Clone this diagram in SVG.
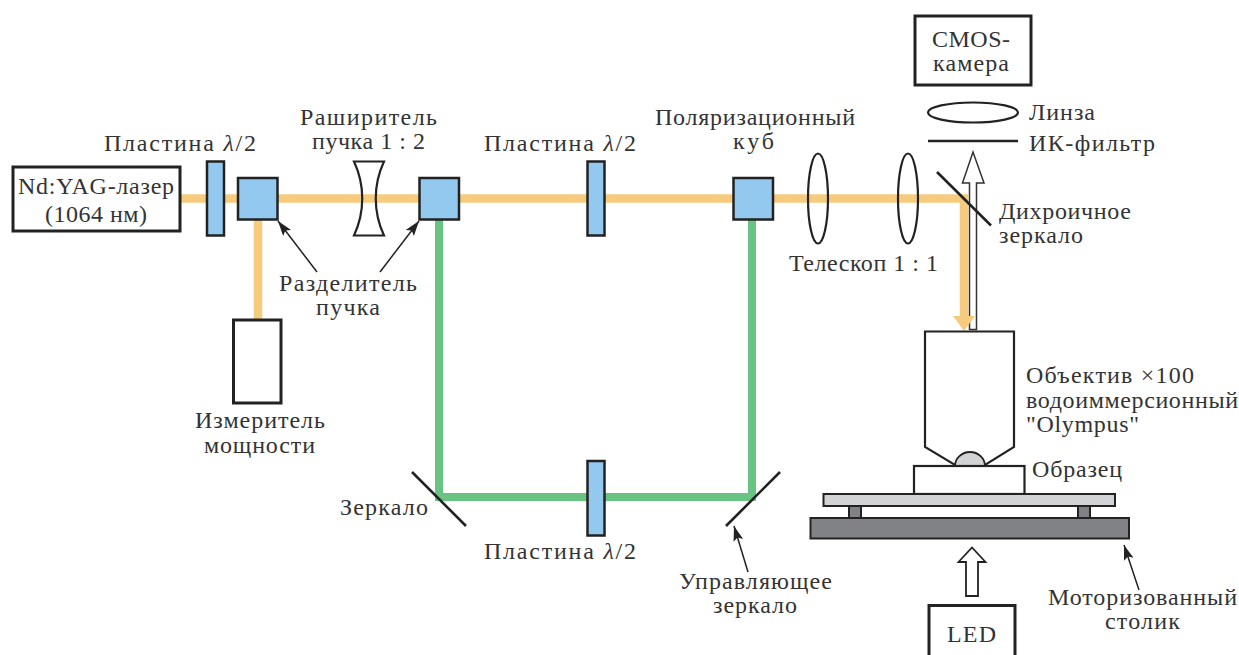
<svg xmlns="http://www.w3.org/2000/svg" width="1239" height="655" viewBox="0 0 1239 655">
<style>
text{font-family:"Liberation Serif","Times New Roman",serif;font-size:24px;fill:#333;text-anchor:middle}
.s{text-anchor:start}
.i{font-style:italic}
.box{fill:#fff;stroke:#222;stroke-width:3}
.thin{fill:#fff;stroke:#222;stroke-width:2.2}
.blue{fill:#93c9ee;stroke:#222;stroke-width:2.5}
.or{stroke:#f6cb7e;stroke-width:8.5;fill:none}
.gr{stroke:#69c383;stroke-width:8;fill:none}
.m{stroke:#222;stroke-width:2.6;fill:none}
.a{stroke:#222;stroke-width:1.5;fill:none;marker-end:url(#h)}
</style>
<defs><marker id="h" markerUnits="userSpaceOnUse" markerWidth="16" markerHeight="12" refX="15" refY="5" orient="auto"><path d="M0 0L15 5L0 10L3 5z" fill="#222"/></marker></defs>
<rect width="1239" height="655" fill="#fff"/>
<g id="ir-arrow"><path d="M969.500 329.500V183H962.500L973 152L984 183H976.500V329.500z" fill="#fff" stroke="#333" stroke-width="1.500"/></g>
<g id="connectors">
<path class="or" d="M180 198.500H968.200"/>
<path class="or" d="M258 219V320"/>
<path class="or" d="M964 198.500V318"/>
<path d="M953 316H975L964 331z" fill="#f6cb7e"/>
<path class="gr" d="M439 219V497H752V219"/>
<path class="a" d="M317 272L278 221"/>
<path class="a" d="M380 272L419 221"/>
<path class="a" d="M748 572L734 526"/>
<path class="a" d="M1139 590L1124 545"/>
</g>
<g id="laser"><rect class="box" x="13" y="167" width="167" height="64"/><text x="96" y="194" textLength="156">Nd:YAG-лазер</text><text x="96" y="222" textLength="102">(1064 нм)</text></g>
<g id="plate1"><rect class="blue" x="207" y="161.500" width="17" height="74"/><text x="180" y="151" textLength="152">Пластина <tspan class="i">λ</tspan>/2</text></g>
<g id="cube1"><rect class="blue" x="238" y="178" width="39.500" height="41.500"/></g>
<g id="expander"><path class="thin" d="M354 161.500H384C373 185 373 212 384 235.500H354C365 212 365 185 354 161.500z" style="fill:none"/><text x="368.500" y="125" textLength="137">Раширитель</text><text x="368.500" y="149" textLength="113">пучка 1 : 2</text></g>
<g id="cube2"><rect class="blue" x="419.500" y="178" width="39.500" height="41.500"/></g>
<text x="348" y="291" textLength="138">Разделитель</text><text x="348" y="315" textLength="64">пучка</text>
<g id="meter"><rect class="box" x="233.500" y="320" width="47.500" height="83"/><text x="260" y="428" textLength="130">Измеритель</text><text x="259.500" y="453" textLength="111">мощности</text></g>
<g id="plate2"><rect class="blue" x="587.500" y="161.500" width="17" height="74"/><text x="560" y="151" textLength="152">Пластина <tspan class="i">λ</tspan>/2</text></g>
<g id="cube3"><rect class="blue" x="733.500" y="178" width="39.500" height="41.500"/><text x="755" y="125" textLength="200">Поляризационный</text><text x="753.500" y="149" textLength="41">куб</text></g>
<g id="telescope"><ellipse cx="818" cy="198.500" rx="10" ry="45" fill="none" stroke="#222" stroke-width="2.200"/><ellipse cx="908" cy="198.500" rx="10" ry="45" fill="none" stroke="#222" stroke-width="2.200"/><text x="863.500" y="271" textLength="149">Телескоп 1 : 1</text></g>
<g id="dichroic"><path class="m" d="M937 172L991 225.500"/><text class="s" x="999" y="219" textLength="132">Дихроичное</text><text class="s" x="999" y="243" textLength="84">зеркало</text></g>
<g id="camera"><rect class="box" x="915" y="16" width="116" height="69"/><text x="971" y="47" textLength="78">CMOS-</text><text x="971" y="71" textLength="76">камера</text></g>
<g id="lens"><ellipse cx="973" cy="112.500" rx="45" ry="10" fill="#fff" stroke="#222" stroke-width="2.200"/><text class="s" x="1029" y="120" textLength="66">Линза</text></g>
<g id="filter"><path class="m" d="M928 141H1018"/><text class="s" x="1029" y="151" textLength="126">ИК-фильтр</text></g>
<g id="objective"><path class="thin" d="M925 331.500H1014V447L985 465H955L925 447z"/><path d="M955 466A15 14 0 0 1 985 466z" fill="#d1d3d4" stroke="#222" stroke-width="1.800"/><text class="s" x="1026" y="383" textLength="168">Объектив ×100</text><text class="s" x="1026" y="408" textLength="212">водоиммерсионный</text><text class="s" x="1026" y="432" textLength="113">"Olympus"</text></g>
<g id="sample"><rect class="thin" x="914" y="466" width="110.500" height="28"/><text class="s" x="1032" y="477" textLength="90">Образец</text></g>
<g id="stage"><rect x="849" y="506" width="12" height="12" fill="#808285" stroke="#222" stroke-width="2"/><rect x="1078" y="506" width="12" height="12" fill="#808285" stroke="#222" stroke-width="2"/><rect x="823.500" y="494" width="291.500" height="12" fill="#d1d3d4" stroke="#222" stroke-width="2"/><rect x="810.500" y="518" width="318.500" height="20.500" fill="#808285" stroke="#222" stroke-width="2"/><text x="1142.500" y="605" textLength="189">Моторизованный</text><text x="1142.500" y="629" textLength="75">столик</text></g>
<g id="mirror-left"><path class="m" d="M412 472L466 526"/><text x="384" y="515" textLength="88">Зеркало</text></g>
<g id="plate3"><rect class="blue" x="587.500" y="461" width="17" height="74.500"/><text x="560" y="559" textLength="152">Пластина <tspan class="i">λ</tspan>/2</text></g>
<g id="mirror-right"><path class="m" d="M726 526L780 472"/><text x="755.500" y="589" textLength="153">Управляющее</text><text x="755" y="613" textLength="84">зеркало</text></g>
<g id="led"><path d="M966 596V562H958.500L972 547.500L985.500 562H978V596z" fill="#fff" stroke="#222" stroke-width="1.800"/><path class="box" d="M929 655V605.500H1015V655"/><text x="971.500" y="642" textLength="49">LED</text></g>
</svg>
